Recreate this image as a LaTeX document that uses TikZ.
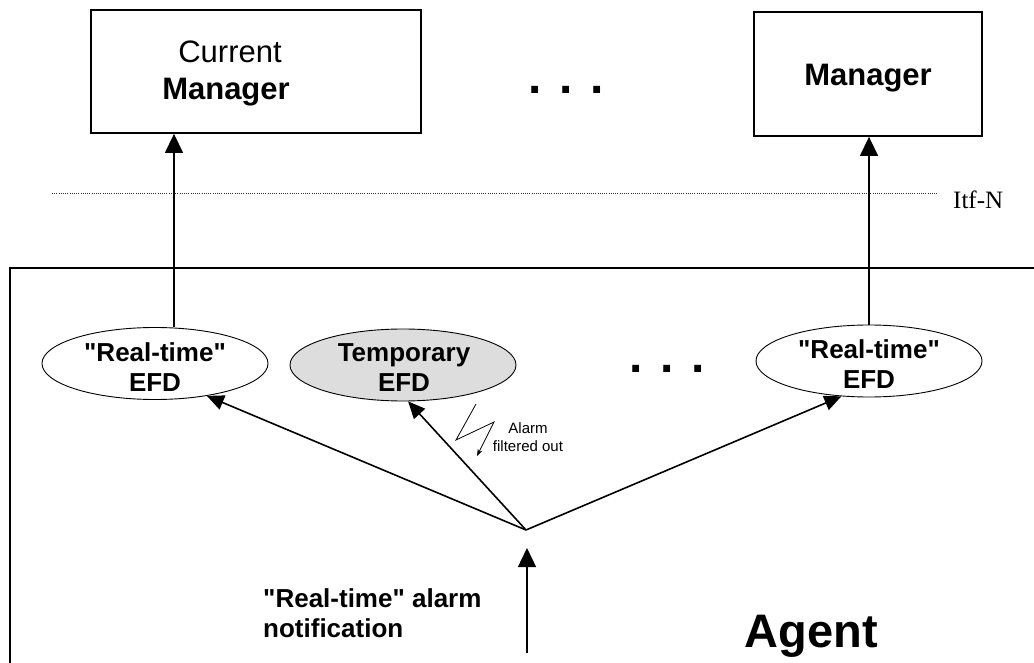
\documentclass[tikz,border=0pt]{standalone}
\usepackage{fontspec}
\setmainfont{Liberation Sans}
\newfontfamily\timesfont{Liberation Serif}
\usetikzlibrary{arrows.meta,shapes.geometric}
\definecolor{efdgray}{RGB}{221,221,221}
\newcommand{\qq}{\textquotedbl}
\tikzset{
  boxnode/.style={draw, line width=1.8pt, inner sep=0pt},
  efdnode/.style={ellipse, draw, line width=0.9pt, minimum width=226pt, minimum height=72pt, inner sep=0pt},
  efdtext/.style={font=\fontsize{26}{30}\selectfont\bfseries, align=center, inner sep=0pt},
  mgrtext/.style={font=\fontsize{31}{37}\selectfont, inner sep=0pt, anchor=base},
  dotstext/.style={font=\fontsize{48}{48}\selectfont\bfseries, inner sep=0pt, anchor=base},
  bigarrow/.style={line width=1.4pt, -{Triangle[length=19pt,width=18pt]}},
  diagarrow/.style={line width=1.6pt, -{Triangle[length=17pt,width=15pt]}},
  boltarrow/.style={line width=0.8pt, -{Stealth[length=7pt,width=5pt]}},
  itfline/.style={line width=0.9pt, dash pattern=on 1pt off 1.2pt, black!80},
  agentline/.style={line width=1.4pt}
}
\begin{document}
\begin{tikzpicture}[x=1pt,y=-1pt]
\useasboundingbox (0,0) rectangle (1034,663);

% managers
\node[boxnode, minimum width=330pt, minimum height=123pt] (cm) at (256,71.5) {};
\node[mgrtext] (cmt1) at (230,63) {Current};
\node[mgrtext] (cmt2) at (226,100) {\bfseries Manager};
\node[boxnode, minimum width=228pt, minimum height=124pt] (mg) at (868,74) {};
\node[mgrtext] (mgt) at (868,86) {\bfseries Manager};
\node[dotstext] (dtop) at (566,93.5) {. . .};

% interface line
\draw[itfline] (52,193) -- (937,193);
\node[font=\timesfont\fontsize{25}{30}\selectfont, inner sep=0pt, anchor=base west] (itf) at (953,209) {Itf-N};

% agent frame
\draw[agentline] (10,663) -- (10,268) -- (1034,268);

% EFDs
\node[efdnode] (le) at (155,363.5) {};
\node[efdtext] (let) at (155,367.5) {\qq Real-time\qq\\EFD};
\node[efdnode, fill=efdgray] (te) at (403,365) {};
\node[efdtext] (tet) at (404,368) {Temporary\\EFD};
\node[efdnode] (re) at (869,361) {};
\node[efdtext] (ret) at (869,364) {\qq Real-time\qq\\EFD};
\node[dotstext] (dmid) at (667,372.5) {. . .};

% arrows up to managers
\coordinate (a1) at (174,0);
\draw[bigarrow] (a1 |- le.north) -- (a1 |- cm.south);
\draw[bigarrow] (re.north) -- (re.north |- mg.south);

% distribution
\coordinate (hub) at (526,530);
\draw[diagarrow] (hub) -- (le.-32);
\draw[diagarrow] (hub) -- (te.-82);
\draw[diagarrow] (hub) -- (re.-128);

% incoming notification
\coordinate (src) at (527,653);
\coordinate (srctip) at (527,548);
\draw[bigarrow] (src) -- (srctip);

% filtered-out bolt
\coordinate (b1) at (476,404);
\coordinate (b2) at (456,440);
\coordinate (b3) at (494,422);
\coordinate (b4) at (477,456);
\draw[boltarrow] (b1) -- (b2) -- (b3) -- (b4);
\node[font=\fontsize{15}{18}\selectfont, align=center, inner sep=0pt, anchor=north] (flt) at (528,422) {Alarm\\filtered out};

% labels
\node[font=\fontsize{26}{30}\selectfont\bfseries, align=left, inner sep=0pt, anchor=north west] (ntf) at (263,588) {\qq Real-time\qq{} alarm\\notification};
\node[font=\fontsize{47}{50}\selectfont\bfseries, inner sep=0pt, anchor=base] (agt) at (811.5,647) {Agent};
\end{tikzpicture}
\end{document}
